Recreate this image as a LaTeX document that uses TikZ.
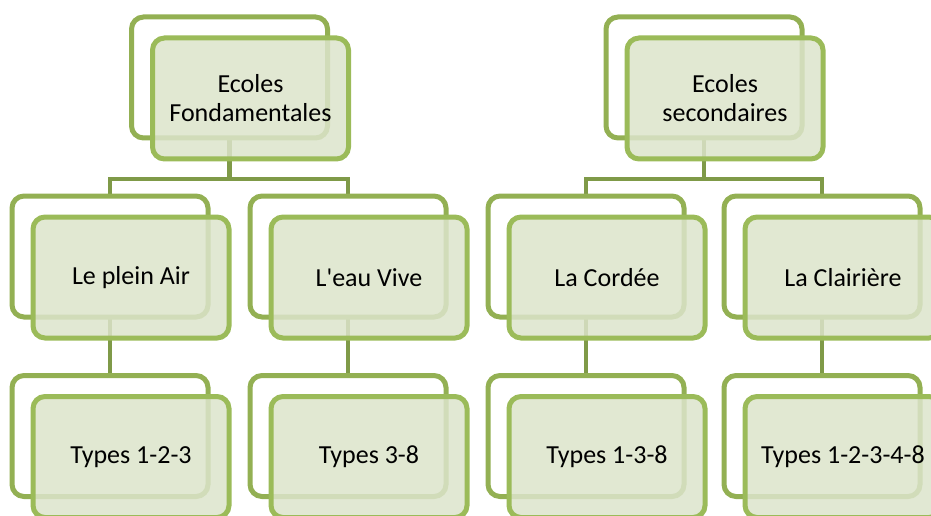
\documentclass[tikz,border=0pt]{standalone}
\usepackage{fontspec}
\setmainfont{Carlito}
\usepackage{tikz}
\usepackage{xcolor}
\usetikzlibrary{calc}

\definecolor{backgreen}{HTML}{93B053}
\definecolor{frontgreen}{HTML}{9BBB59}
\definecolor{frontfill}{HTML}{DCE4CB}
\definecolor{linkgreen}{HTML}{7F9A48}

\begin{document}
\begin{tikzpicture}[x=1pt, y=1pt,
    backbox/.style={shape=rectangle, rounded corners=12pt, draw=backgreen, line width=5pt,
      fill=white, minimum width=196pt, minimum height=121pt},
    frontbox/.style={shape=rectangle, rounded corners=12pt, draw=frontgreen, line width=5pt,
      fill=frontfill, fill opacity=0.85, text opacity=1, minimum width=196pt, minimum height=121pt,
      align=center, font=\fontsize{26}{29}\selectfont},
    link/.style={draw=linkgreen, line width=4.5pt}]
    \useasboundingbox (0,0) rectangle (931,515);

    % back boxes
    \coordinate (ecfb) at (229.5,437.5);
    \coordinate (ecsb) at (704,437.5);
    \coordinate (airb) at (110,258.5);
    \coordinate (eaub) at (348,258.5);
    \coordinate (cordeeb) at (586,258.5);
    \coordinate (clairb) at (822,258.5);
    \coordinate (ta) at (110,79);
    \coordinate (tb) at (348,79);
    \coordinate (tc) at (586,79);
    \coordinate (td) at (822,79);
    \coordinate (busy) at (0,336);

    \draw[link] (ecfb) -- (ecfb |- busy) -| (airb);
    \draw[link] (ecfb |- busy) -| (eaub);
    \draw[link] (ecsb) -- (ecsb |- busy) -| (cordeeb);
    \draw[link] (ecsb |- busy) -| (clairb);
    \draw[link] (airb) -- (ta);
    \draw[link] (eaub) -- (tb);
    \draw[link] (cordeeb) -- (tc);
    \draw[link] (clairb) -- (td);

    \node[backbox] (ecfB) at (ecfb) {};
    \node[backbox] (ecsB) at (ecsb) {};
    \node[backbox] (airB) at (airb) {};
    \node[backbox] (eauB) at (eaub) {};
    \node[backbox] (cordeeB) at (cordeeb) {};
    \node[backbox] (clairB) at (clairb) {};
    \node[backbox] (taB) at (ta) {};
    \node[backbox] (tbB) at (tb) {};
    \node[backbox] (tcB) at (tc) {};
    \node[backbox] (tdB) at (td) {};

    % front boxes
    \node[frontbox] (ecf) at ($(ecfB)+(21,-21)$) {Ecoles\\Fondamentales};
    \node[frontbox] (ecs) at ($(ecsB)+(21,-21)$) {Ecoles\\secondaires};
    \node[frontbox] (air) at ($(airB)+(21,-21)$) {Le plein Air};
    \node[frontbox] (eau) at ($(eauB)+(21,-21)$) {L\textquotesingle eau Vive};
    \node[frontbox] (cordee) at ($(cordeeB)+(21,-21)$) {La Cordée};
    \node[frontbox] (clair) at ($(clairB)+(21,-21)$) {La Clairière};
    \node[frontbox] (t123) at ($(taB)+(21,-21)$) {Types 1-2-3};
    \node[frontbox] (t38) at ($(tbB)+(21,-21)$) {Types 3-8};
    \node[frontbox] (t138) at ($(tcB)+(21,-21)$) {Types 1-3-8};
    \node[frontbox] (t12348) at ($(tdB)+(21,-21)$) {Types 1-2-3-4-8};
  \end{tikzpicture}
\end{document}
